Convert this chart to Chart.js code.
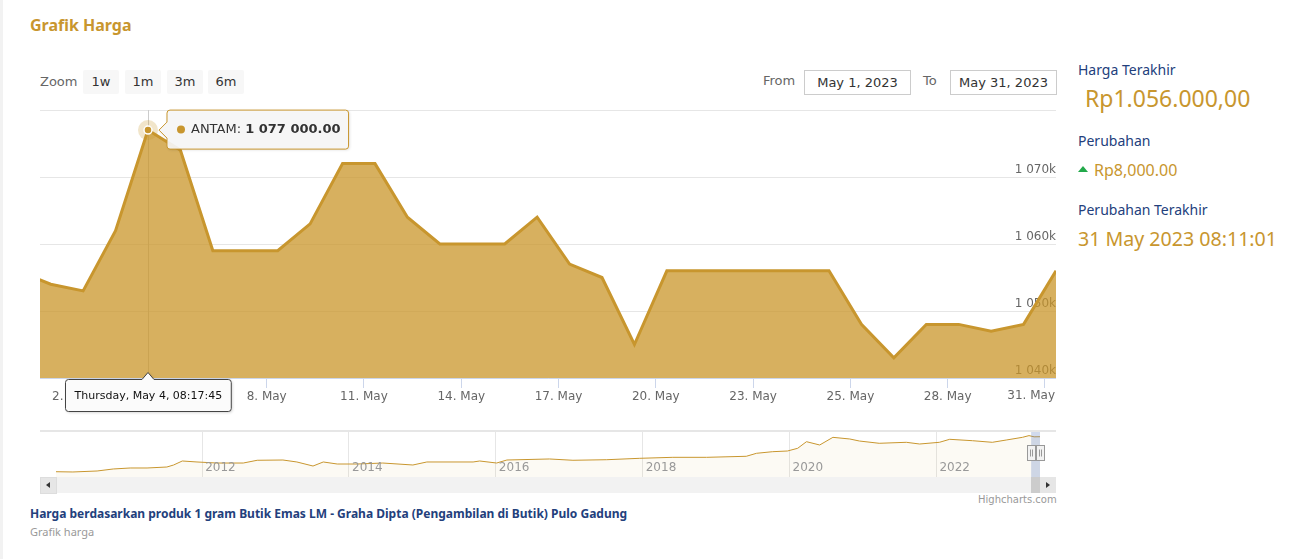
<!DOCTYPE html>
<html><head><meta charset="utf-8">
<script src="https://cdn.jsdelivr.net/npm/chart.js@4"></script>
<style>
html,body{margin:0;padding:0;background:#fff;}
body{width:1290px;height:559px;position:relative;overflow:hidden;font-family:"Noto Sans",sans-serif;}
.a{position:absolute;white-space:nowrap;}
.hc{font-family:"DejaVu Sans",sans-serif;}
.btn{position:absolute;top:70px;height:24px;width:36px;background:#f7f7f7;border-radius:2px;font:13px "DejaVu Sans",sans-serif;color:#333;text-align:center;line-height:24px;}
.inp{position:absolute;top:70px;height:23px;width:105px;border:1px solid #ccc;font:13px "DejaVu Sans",sans-serif;color:#333;text-align:center;line-height:23px;}
.navy{color:#23407c;font-size:14px;line-height:20px;}
.gold{color:#c8962e;}
</style></head><body>
<div class="a" style="left:0;top:0;width:3px;height:559px;background:#f2f2f2"></div>
<div class="a gold" style="left:30px;top:13px;font-size:16px;font-weight:bold;line-height:24px">Grafik Harga</div>

<div class="a hc" style="left:40px;top:72px;font-size:13px;line-height:20px;color:#666">Zoom</div>
<div class="btn" style="left:83px">1w</div>
<div class="btn" style="left:125px">1m</div>
<div class="btn" style="left:167px">3m</div>
<div class="btn" style="left:208px">6m</div>
<div class="a hc" style="left:763px;top:71px;font-size:13px;line-height:20px;color:#666">From</div>
<div class="inp" style="left:804px">May 1, 2023</div>
<div class="a hc" style="left:923px;top:71px;font-size:13px;line-height:20px;color:#666">To</div>
<div class="inp" style="left:950px">May 31, 2023</div>

<div class="a" style="left:40px;top:100px;width:1016px;height:320px"><canvas id="main" width="1016" height="320" style="width:1016px;height:320px"></canvas></div>

<div class="a" style="left:40px;top:430px;width:1016px;height:2px;background:#e6e6e6"></div>
<div class="a" style="left:40px;top:432px;width:1016px;height:45px"><canvas id="nav" width="1016" height="45" style="width:1016px;height:45px"></canvas></div>
<div class="a" style="left:40px;top:477px;width:1016px;height:16px;background:#f2f2f2"></div>
<div class="a" style="left:40px;top:477px;width:15px;height:15px;background:#e6e6e6;border:1px solid #ddd"></div>
<div class="a" style="left:46px;top:482px;width:0;height:0;border-top:3px solid transparent;border-bottom:3px solid transparent;border-right:4px solid #333"></div>
<div class="a" style="left:1031px;top:477px;width:9px;height:16px;background:#cccccc"></div>
<div class="a" style="left:1040px;top:477px;width:16px;height:16px;background:#e6e6e6"></div>
<div class="a" style="left:1046px;top:482px;width:0;height:0;border-top:3px solid transparent;border-bottom:3px solid transparent;border-left:4px solid #333"></div>
<div class="a hc" style="left:978px;top:493px;font-size:10px;line-height:14px;color:#999">Highcharts.com</div>

<div class="a navy" style="left:1078px;top:60px">Harga Terakhir</div>
<div class="a gold" style="left:1085px;top:83px;font-size:23px;line-height:30px">Rp1.056.000,00</div>
<div class="a navy" style="left:1078px;top:131px">Perubahan</div>
<div class="a" style="left:1078px;top:166px;width:0;height:0;border-left:5px solid transparent;border-right:5px solid transparent;border-bottom:6px solid #22a94a"></div>
<div class="a gold" style="left:1094px;top:159px;font-size:16px;line-height:22px">Rp8,000.00</div>
<div class="a navy" style="left:1078px;top:200px">Perubahan Terakhir</div>
<div class="a gold" style="left:1078px;top:225px;font-size:19.6px;line-height:28px">31 May 2023 08:11:01</div>

<div class="a" style="left:30px;top:505px;font-size:12px;font-weight:bold;line-height:18px;color:#23407c">Harga berdasarkan produk 1 gram Butik Emas LM - Graha Dipta (Pengambilan di Butik) Pulo Gadung</div>
<div class="a" style="left:30px;top:524px;font-size:11px;line-height:16px;color:#999">Grafik harga</div>

<script>
// ---- main series (ordinal points, first one is 30 Apr, partly off-plot) ----
const days = [30,1,2,3,4,5,6,7,8,9,10,11,12,13,14,15,16,17,18,19,20,21,22,23,24,24,25,26,27,28,29,30,31];
const prices = [1056000,1054000,1053000,1062000,1077000,1074000,1059000,1059000,1059000,1063000,1072000,1072000,1064000,1060000,1060000,1060000,1064000,1057000,1055000,1045000,1056000,1056000,1056000,1056000,1056000,1056000,1048000,1043000,1048000,1048000,1047000,1048000,1056000];
const tickIndex = [2,5,8,11,14,17,20,23,26,29,32];
const tickLabels = ['2. May','5. May','8. May','11. May','14. May','17. May','20. May','23. May','25. May','28. May','31. May'];
const yTicks = [1040000,1050000,1060000,1070000,1080000];
const seriesName = 'ANTAM';
const hoverIndex = 4;
const hoverLabel = 'Thursday, May 4, 08:17:45';
// ---- navigator series ----
const navYears = [2010.01,2010.24,2010.57,2010.79,2011.02,2011.25,2011.52,2011.61,2011.73,2011.93,2012.20,2012.56,2012.75,2013.10,2013.29,2013.51,2013.65,2013.84,2014.11,2014.46,2014.87,2015.06,2015.69,2015.78,2016.01,2016.15,2016.73,2017.05,2017.51,2017.96,2018.41,2018.87,2019.41,2019.55,2019.77,2019.97,2020.11,2020.23,2020.41,2020.59,2020.82,2020.95,2021.22,2021.59,2021.77,2022.04,2022.18,2022.49,2022.76,2022.95,2023.17,2023.26,2023.33,2023.41];
const navPrices = [380,375,394,433,452,452,471,509,587,568,548,548,601,606,568,490,568,529,529,548,510,568,568,587,548,606,626,601,612,639,658,658,678,736,767,780,832,960,896,1044,1012,973,929,948,915,948,1006,979,948,992,1044,1077,1054,1056];
const navTickYears = [2012,2014,2016,2018,2020,2022];
const navSelection = [2023.33,2023.41];

const GOLD = '#c8962e';
const AXIS_FONT = '12px "DejaVu Sans", sans-serif';
Chart.defaults.font.family = '"DejaVu Sans", sans-serif';
Chart.defaults.animation = false;

function fmtK(v){ const k = Math.round(v/1000); const s = String(k); return s.replace(/\B(?=(\d{3})+(?!\d))/g,' ') + 'k'; }
function fmtFull(v){ return String(v).replace(/\B(?=(\d{3})+(?!\d))/g,' ') + '.00'; }
const lastTick = tickLabels.length - 1;

const hoverPlugin = {
  id:'hoverDeco',
  beforeDatasetsDraw(chart){
    const {ctx, chartArea:a, scales:{x}} = chart;
    const px = Math.round(x.getPixelForValue(hoverIndex)) + 0.5;
    ctx.save(); ctx.strokeStyle='#cccccc'; ctx.lineWidth=1;
    ctx.beginPath(); ctx.moveTo(px,a.top); ctx.lineTo(px,a.bottom); ctx.stroke(); ctx.restore();
  },
  afterDraw(chart){
    const {ctx, chartArea:a, scales:{x,y}} = chart;
    ctx.save();
    // last x label kept inside the plot (as Highcharts does)
    ctx.font = AXIS_FONT; ctx.fillStyle='#666'; ctx.textAlign='right'; ctx.textBaseline='middle';
    const lt = x.getPixelForValue(tickIndex[lastTick]-0.34);
    const ltw = ctx.measureText(tickLabels[lastTick]).width;
    ctx.textAlign='center';
    ctx.fillText(tickLabels[lastTick], Math.min(lt, a.right - ltw/2 - 1), a.bottom + 18);

    const px = x.getPixelForValue(hoverIndex), py = y.getPixelForValue(prices[hoverIndex]);
    ctx.fillStyle='rgba(201,150,42,0.25)'; ctx.beginPath(); ctx.arc(px,py,10,0,Math.PI*2); ctx.fill();
    ctx.fillStyle=GOLD; ctx.strokeStyle='#ffffff'; ctx.lineWidth=1.5; ctx.beginPath(); ctx.arc(px,py,4,0,Math.PI*2); ctx.fill(); ctx.stroke();
    ctx.font='13px "DejaVu Sans", sans-serif';
    const t1 = seriesName + ': ';
    const w1 = ctx.measureText(t1).width;
    ctx.font='bold 13px "DejaVu Sans", sans-serif';
    const t2 = fmtFull(prices[hoverIndex]);
    const w2 = ctx.measureText(t2).width;
    const bx = px + 19, by = py - 20, bw = 24 + w1 + w2 + 8, bh = 39;
    ctx.shadowColor='rgba(0,0,0,0.15)'; ctx.shadowBlur=3; ctx.shadowOffsetX=1; ctx.shadowOffsetY=1;
    ctx.beginPath();
    ctx.moveTo(bx+3,by); ctx.lineTo(bx+bw-3,by); ctx.quadraticCurveTo(bx+bw,by,bx+bw,by+3);
    ctx.lineTo(bx+bw,by+bh-3); ctx.quadraticCurveTo(bx+bw,by+bh,bx+bw-3,by+bh);
    ctx.lineTo(bx+3,by+bh); ctx.quadraticCurveTo(bx,by+bh,bx,by+bh-3);
    ctx.lineTo(bx,py+8); ctx.lineTo(px+11,py); ctx.lineTo(bx,py-8);
    ctx.lineTo(bx,by+3); ctx.quadraticCurveTo(bx,by,bx+3,by); ctx.closePath();
    ctx.fillStyle='rgba(247,247,247,0.92)'; ctx.fill();
    ctx.shadowColor='transparent';
    ctx.strokeStyle=GOLD; ctx.lineWidth=1; ctx.stroke();
    const ty = by + bh/2;
    ctx.fillStyle=GOLD; ctx.beginPath(); ctx.arc(bx+14,ty,4,0,Math.PI*2); ctx.fill();
    ctx.fillStyle='#333'; ctx.textBaseline='middle'; ctx.textAlign='left';
    ctx.font='13px "DejaVu Sans", sans-serif'; ctx.fillText(t1,bx+24,ty);
    ctx.font='bold 13px "DejaVu Sans", sans-serif'; ctx.fillText(t2,bx+24+w1,ty);
    ctx.font='11px "DejaVu Sans", sans-serif';
    const lw = ctx.measureText(hoverLabel).width + 18, lh = 32;
    const lx = Math.round(px - lw/2) + 0.5, ly = a.bottom + 1.5;
    ctx.shadowColor='rgba(0,0,0,0.2)'; ctx.shadowBlur=3; ctx.shadowOffsetX=1; ctx.shadowOffsetY=1;
    ctx.beginPath();
    ctx.moveTo(lx+3,ly); ctx.lineTo(px-6,ly); ctx.lineTo(px,ly-7); ctx.lineTo(px+6,ly);
    ctx.lineTo(lx+lw-3,ly); ctx.quadraticCurveTo(lx+lw,ly,lx+lw,ly+3);
    ctx.lineTo(lx+lw,ly+lh-3); ctx.quadraticCurveTo(lx+lw,ly+lh,lx+lw-3,ly+lh);
    ctx.lineTo(lx+3,ly+lh); ctx.quadraticCurveTo(lx,ly+lh,lx,ly+lh-3);
    ctx.lineTo(lx,ly+3); ctx.quadraticCurveTo(lx,ly,lx+3,ly); ctx.closePath();
    ctx.fillStyle='#fbfbfb'; ctx.fill();
    ctx.shadowColor='transparent';
    ctx.strokeStyle='#444'; ctx.lineWidth=1; ctx.stroke();
    ctx.fillStyle='#111'; ctx.textAlign='center'; ctx.textBaseline='middle';
    ctx.fillText(hoverLabel, lx+lw/2, ly+lh/2+0.5);
    ctx.restore();
  }
};

const mainChart = new Chart(document.getElementById('main'), {
  type:'line',
  data:{ datasets:[{
    label: seriesName,
    data: prices.map((v,i)=>({x:i, y:v})),
    borderColor: GOLD, borderWidth:3,
    backgroundColor:'rgba(201,149,42,0.75)', fill:'start',
    pointRadius:0, pointHoverRadius:0, tension:0, yAxisID:'y'
  }]},
  options:{
    responsive:false, devicePixelRatio:1,
    layout:{ autoPadding:false, padding:{top:10,left:0,right:0,bottom:0} },
    plugins:{ legend:{display:false}, tooltip:{enabled:false} },
    events:[],
    scales:{
      x:{ type:'linear', min:0.67, max:32,
        afterBuildTicks(s){ s.ticks = tickIndex.map(i=>({value:i-0.34})); },
        afterFit(s){ s.height = 42; s.paddingLeft = 0; s.paddingRight = 0; },
        grid:{ drawOnChartArea:false, drawTicks:true, tickLength:10, color:'#ccd6eb', lineWidth:1 },
        border:{ display:true, color:'#ccd6eb', width:1 },
        ticks:{ autoSkip:false, maxRotation:0, padding:2, font:{size:12},
          color:(c)=> c.index === lastTick ? 'rgba(0,0,0,0)' : '#666',
          callback:(v,i)=>tickLabels[i] }
      },
      y:{ type:'linear', position:'right', min:1040000, max:1080000,
        afterBuildTicks(s){ s.ticks = yTicks.map(v=>({value:v})); },
        afterFit(s){ s.width = 0; s.paddingTop = 0; s.paddingBottom = 0; },
        grid:{ color:'#e6e6e6', lineWidth:1, drawTicks:false },
        border:{ display:false },
        ticks:{ display:false }
      },
      yLabels:{ type:'linear', position:'right', min:1040000, max:1080000, z:1,
        afterBuildTicks(s){ s.ticks = yTicks.slice(0,-1).map(v=>({value:v})); },
        afterFit(s){ s.width = 0; s.paddingTop = 0; s.paddingBottom = 0; },
        grid:{ display:false, drawTicks:false },
        border:{ display:false },
        ticks:{ mirror:true, padding:0, labelOffset:-7, color:'#666', font:{size:12}, callback:v=>fmtK(v) }
      }
    }
  },
  plugins:[hoverPlugin]
});

const navPlugin = {
  id:'navDeco',
  afterDraw(chart){
    const {ctx, chartArea:a, scales:{x}} = chart;
    ctx.save();
    ctx.font=AXIS_FONT; ctx.fillStyle='#999'; ctx.textAlign='left'; ctx.textBaseline='middle';
    navTickYears.forEach(yv=>{ ctx.fillText(String(yv), x.getPixelForValue(yv)+3, a.bottom-9); });
    const x1 = x.getPixelForValue(navSelection[0]), x2 = x.getPixelForValue(navSelection[1]);
    ctx.fillStyle='rgba(102,133,194,0.3)'; ctx.fillRect(x1-3, a.top, x2-x1+3, a.bottom-a.top);
    [x1-3, x2].forEach(hx=>{
      const rx = Math.round(hx-4)+0.5, ry = a.top+13.5;
      ctx.fillStyle='#f2f2f2'; ctx.strokeStyle='#999'; ctx.lineWidth=1;
      ctx.fillRect(rx,ry,8,15); ctx.strokeRect(rx,ry,8,15);
      ctx.beginPath(); ctx.moveTo(rx+3,ry+4); ctx.lineTo(rx+3,ry+11); ctx.moveTo(rx+5,ry+4); ctx.lineTo(rx+5,ry+11); ctx.stroke();
    });
    ctx.restore();
  }
};

const navChart = new Chart(document.getElementById('nav'), {
  type:'line',
  data:{ datasets:[{
    data: navYears.map((yr,i)=>({x:yr, y:navPrices[i]})),
    borderColor: GOLD, borderWidth:1, backgroundColor:'rgba(201,150,42,0.05)', fill:'start',
    pointRadius:0, tension:0
  }]},
  options:{
    responsive:false, devicePixelRatio:1, events:[],
    layout:{ autoPadding:false, padding:{top:0,left:16,right:16,bottom:0} },
    plugins:{ legend:{display:false}, tooltip:{enabled:false} },
    scales:{
      x:{ type:'linear', min:navYears[0], max:navYears[navYears.length-1],
        afterBuildTicks(s){ s.ticks = navTickYears.map(v=>({value:v})); },
        afterFit(s){ s.height = 0; s.paddingLeft = 0; s.paddingRight = 0; },
        grid:{ color:'#e6e6e6', lineWidth:1, drawTicks:false },
        border:{ display:false }, ticks:{ display:false }
      },
      y:{ display:false, min:278, max:1147 }
    }
  },
  plugins:[navPlugin]
});
</script>
</body></html>
